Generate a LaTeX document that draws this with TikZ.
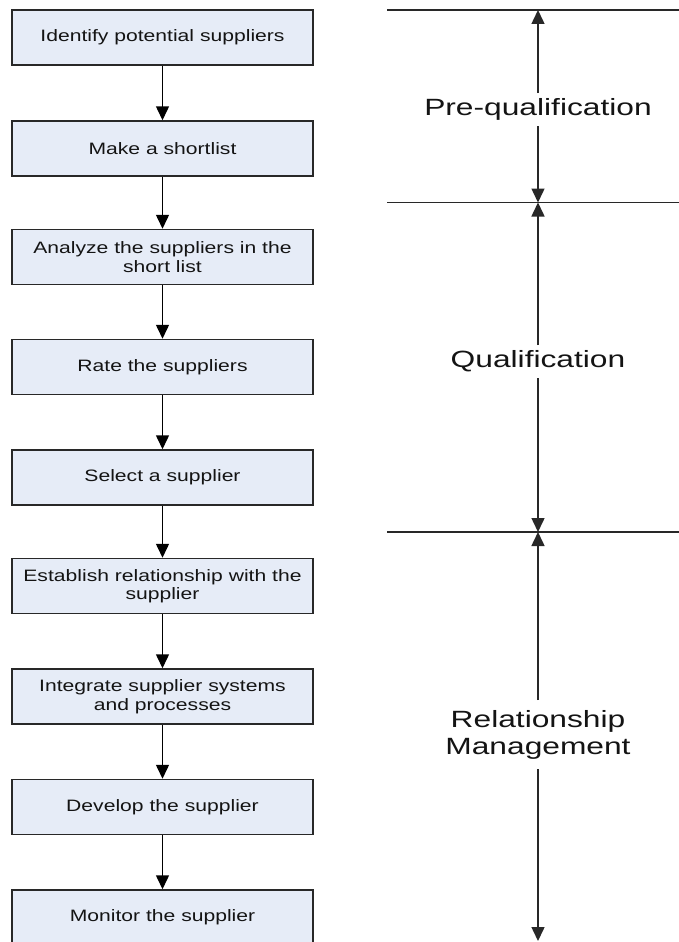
\documentclass[tikz,border=0pt]{standalone}
\usepackage{fontspec}
\newfontfamily\boxfont[FakeStretch=1.28]{Liberation Sans}
\newfontfamily\labfont[FakeStretch=1.35]{Liberation Sans}
\usetikzlibrary{arrows.meta}
\definecolor{boxfill}{RGB}{230,236,247}
\definecolor{boxline}{RGB}{40,40,40}
\definecolor{txt}{RGB}{20,20,20}
\begin{document}
\begin{tikzpicture}[x=1pt,y=-1pt,
  stepbox/.style={draw=boxline, line width=1.5pt, fill=boxfill, minimum width=301pt,
    minimum height=55pt, inner sep=0pt, align=center, text=txt,
    font=\boxfont\fontsize{16.5}{18.5}\selectfont},
  flow/.style={draw=black, line width=1.5pt, -{Triangle[length=14pt,width=13pt]}},
  phase/.style={align=center, inner sep=0pt, outer sep=0pt, text=txt,
    font=\labfont\fontsize{23.5}{27}\selectfont},
  rule/.style={draw=boxline, line width=1.2pt},
  span/.style={draw=boxline, line width=1.5pt, -{Triangle[length=14pt,width=13pt]}}]
\useasboundingbox (0,0) rectangle (679,942);
\fill[white] (0,0) rectangle (679,942);

% flow boxes
\node[stepbox] (b1) at (162.5,37.5) {Identify potential suppliers};
\node[stepbox] (b2) at (162.5,148.5) {Make a shortlist};
\node[stepbox] (b3) at (162.5,257) {Analyze the suppliers in the\\short list};
\node[stepbox] (b4) at (162.5,367) {Rate the suppliers};
\node[stepbox] (b5) at (162.5,477.5) {Select a supplier};
\node[stepbox] (b6) at (162.5,586) {Establish relationship with the\\supplier};
\node[stepbox] (b7) at (162.5,696.5) {Integrate supplier systems\\and processes};
\node[stepbox] (b8) at (162.5,807) {Develop the supplier};
\node[stepbox] (b9) at (162.5,917.5) {Monitor the supplier};

\draw[flow] (b1) -- (b2);
\draw[flow] (b2) -- (b3);
\draw[flow] (b3) -- (b4);
\draw[flow] (b4) -- (b5);
\draw[flow] (b5) -- (b6);
\draw[flow] (b6) -- (b7);
\draw[flow] (b7) -- (b8);
\draw[flow] (b8) -- (b9);

% phase boundaries
\coordinate (l1a) at (387,10);
\coordinate (l1b) at (679,10);
\coordinate (l2a) at (387,202.5);
\coordinate (l2b) at (679,202.5);
\coordinate (l3a) at (387,532);
\coordinate (l3b) at (679,532);
\draw[rule] (l1a) -- (l1b);
\draw[rule] (l2a) -- (l2b);
\draw[rule] (l3a) -- (l3b);

\coordinate (t1) at (538,10);
\coordinate (t2) at (538,202.5);
\coordinate (t3) at (538,532);
\coordinate (t4) at (538,941);

% phase labels
\node[phase, minimum height=33pt] (pq) at (538,109.5) {Pre-qualification};
\node[phase, minimum height=33pt] (q) at (538,361.5) {Qualification};
\node[phase, minimum height=69pt] (rm) at (538,734.5) {Relationship\\Management};

\draw[span] (pq.north) -- (t1);
\draw[span] (pq.south) -- (t2);
\draw[span] (q.north) -- (t2);
\draw[span] (q.south) -- (t3);
\draw[span] (rm.north) -- (t3);
\draw[span] (rm.south) -- (t4);
\end{tikzpicture}
\end{document}
